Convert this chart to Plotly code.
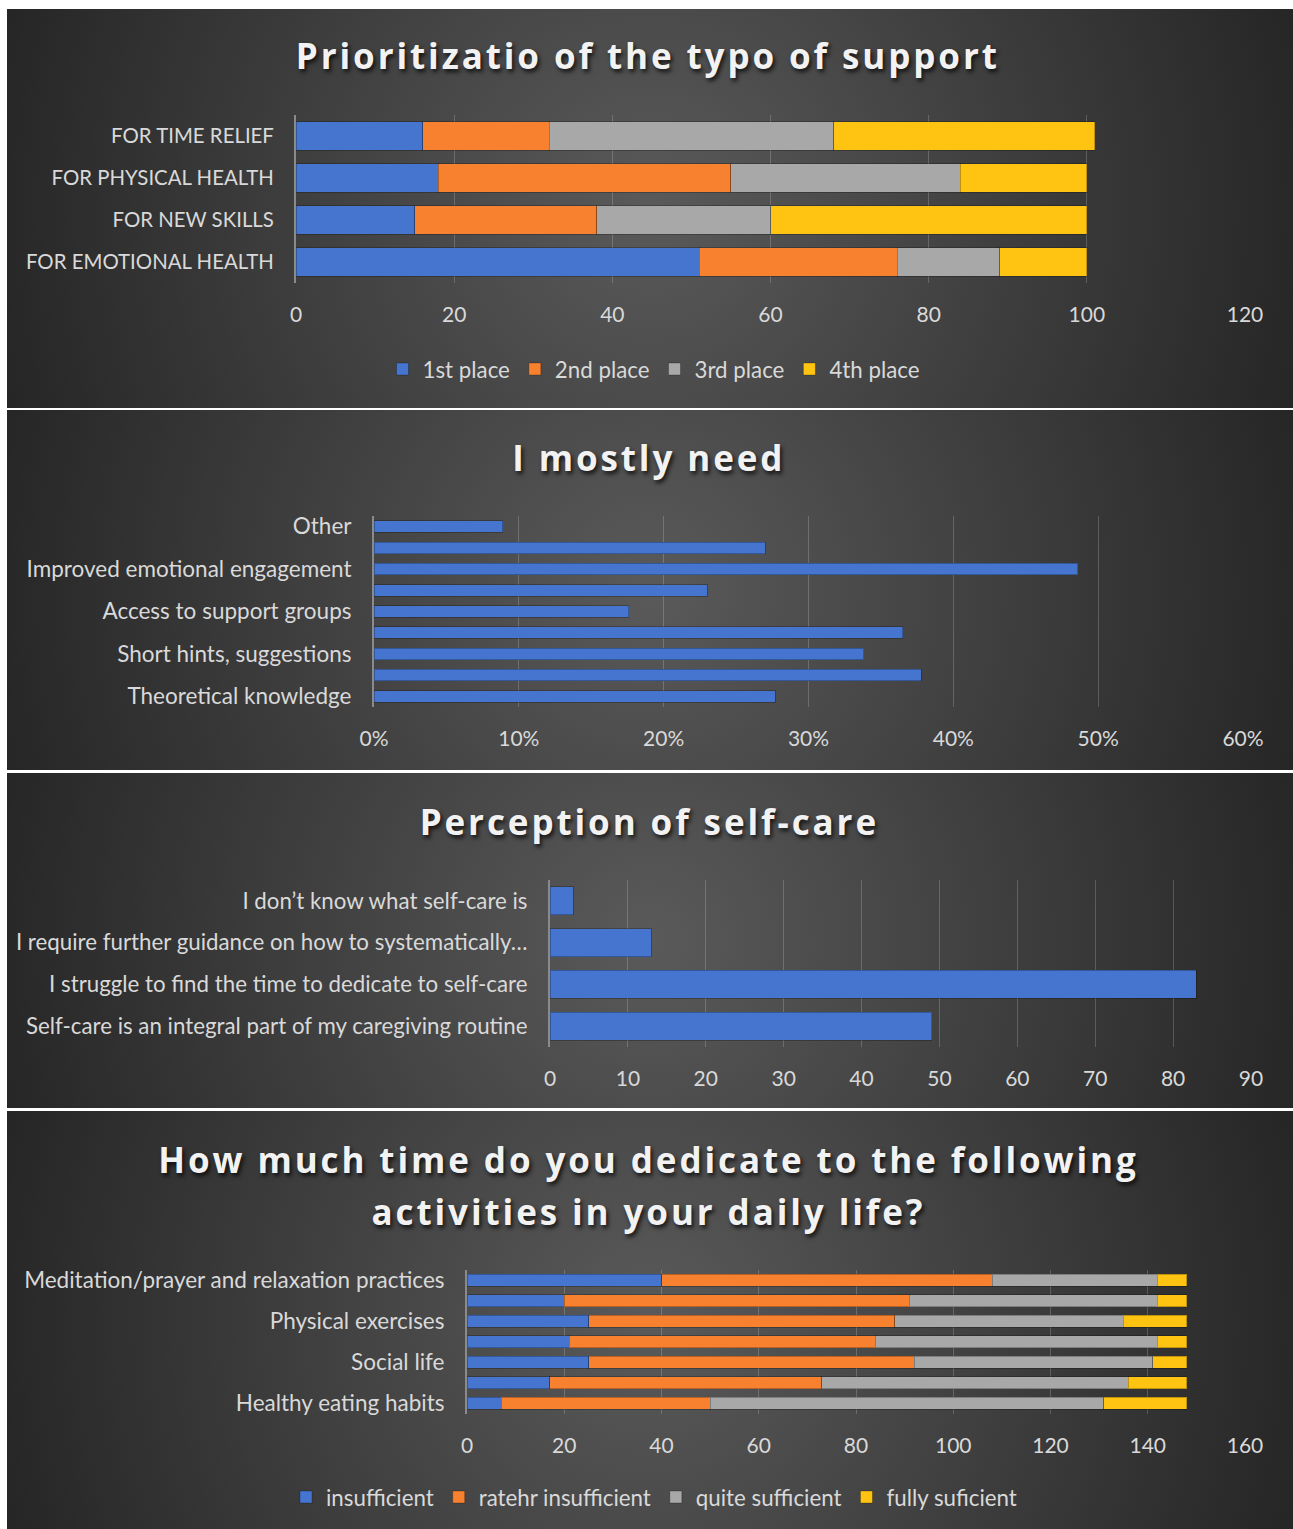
import base64
import plotly.graph_objects as go

W, H = 1293, 1529

# ---------------- data ----------------
# Chart 1: Prioritization of the type of support (stacked counts)
support_cats = ["FOR TIME RELIEF", "FOR PHYSICAL HEALTH", "FOR NEW SKILLS", "FOR EMOTIONAL HEALTH"]
place_names = ["1st place", "2nd place", "3rd place", "4th place"]
place_1st = [16, 18, 15, 51]
place_2nd = [16, 37, 23, 25]
place_3rd = [36, 29, 22, 13]
place_4th = [33, 16, 40, 11]

# Chart 2: I mostly need (share of respondents); unlabeled rows have hidden tick labels
need_labels = ["Other", "", "Improved emotional engagement", "", "Access to support groups", "",
               "Short hints, suggestions", "", "Theoretical knowledge"]
need_values = [0.089, 0.270, 0.486, 0.230, 0.176, 0.365, 0.338, 0.378, 0.277]

# Chart 3: Perception of self-care (counts)
selfcare_labels = ["I don\u2019t know what self-care is",
                   "I require further guidance on how to systematically\u2026",
                   "I struggle to find the time to dedicate to self-care",
                   "Self-care is an integral part of my caregiving routine"]
selfcare_values = [3, 13, 83, 49]

# Chart 4: time dedicated to activities (stacked counts)
activity_labels = ["Meditation/prayer and relaxation practices", "", "Physical exercises", "",
                   "Social life", "", "Healthy eating habits"]
time_names = ["insufficient", "ratehr insufficient", "quite sufficient", "fully suficient"]
time_insufficient = [40, 20, 25, 21, 25, 17, 7]
time_rather_insufficient = [68, 71, 63, 63, 67, 56, 43]
time_quite_sufficient = [34, 51, 47, 58, 49, 63, 81]
time_fully_sufficient = [6, 6, 13, 6, 7, 12, 17]

titles = ["Prioritizatio of the typo of support", "I mostly need", "Perception of self-care",
          "How much time do you dedicate to the following", "activities in your daily life?"]

# ---------------- style ----------------
BLUE, ORANGE, GRAY, YELLOW = "#4575cf", "#f7812f", "#a8a8a8", "#ffc412"
COLORS = [BLUE, ORANGE, GRAY, YELLOW]
TXT = "#d9d9d9"
GRID = "rgba(255,255,255,0.19)"
AXLINE = "#8a8a8a"
FONT = "Lato"
NUMFONT = dict(family=FONT, size=21, color=TXT)
CAPFONT = dict(family=FONT, size=20.4, color=TXT)
CATFONT = dict(family=FONT, size=22.5, color=TXT)
CATFONT3 = dict(family=FONT, size=22.3, color=TXT)
LEGFONT = dict(family=FONT, size=22.3, color=TXT)
TITLEFONT = dict(family="Open Sans", size=35, color="#f2f2f2", weight="bold",
                 shadow="2px 3px 4px rgba(0,0,0,0.75)")
BAR_LINE = dict(color="rgba(0,0,0,0.25)", width=1)


def px(x):
    return x / W


def py(y):
    return 1 - y / H


def dom_x(a, b):
    return [px(a), px(b)]


def dom_y(top, bottom):
    return [py(bottom), py(top)]


def bg_image(x0, y0, x1, y1):
    w, h = x1 - x0, y1 - y0
    r = 0.52 * w
    svg = (f"<svg xmlns='http://www.w3.org/2000/svg' width='{w}' height='{h}' viewBox='0 0 {w} {h}' "
           f"preserveAspectRatio='none'><defs><radialGradient id='g' gradientUnits='userSpaceOnUse' "
           f"cx='{w/2}' cy='{h/2}' r='{r}'><stop offset='0' stop-color='#5a5a5a'/>"
           f"<stop offset='1' stop-color='#262626'/></radialGradient></defs>"
           f"<rect x='0' y='0' width='{w}' height='{h}' fill='url(#g)'/></svg>")
    src = "data:image/svg+xml;base64," + base64.b64encode(svg.encode()).decode()
    return dict(source=src, xref="paper", yref="paper", x=px(x0), y=py(y0),
                sizex=w / W, sizey=h / H, sizing="stretch", xanchor="left", yanchor="top",
                layer="below")


fig = go.Figure()

# Chart 1
for name, vals, col in zip(place_names, [place_1st, place_2nd, place_3rd, place_4th], COLORS):
    fig.add_trace(go.Bar(y=support_cats, x=vals, orientation="h", name=name,
                         marker=dict(color=col, line=BAR_LINE), width=0.68,
                         xaxis="x", yaxis="y", legend="legend"))

# Chart 2
fig.add_trace(go.Bar(y=list(range(len(need_values))), x=need_values, orientation="h",
                     marker=dict(color=BLUE, line=BAR_LINE), width=0.54, showlegend=False,
                     xaxis="x2", yaxis="y2"))

# Chart 3
fig.add_trace(go.Bar(y=selfcare_labels, x=selfcare_values, orientation="h",
                     marker=dict(color=BLUE, line=BAR_LINE), width=0.67, showlegend=False,
                     xaxis="x3", yaxis="y3"))

# Chart 4
for name, vals, col in zip(time_names, [time_insufficient, time_rather_insufficient,
                                        time_quite_sufficient, time_fully_sufficient], COLORS):
    fig.add_trace(go.Bar(y=list(range(len(vals))), x=vals, orientation="h", name=name,
                         marker=dict(color=col, line=BAR_LINE), width=0.57,
                         xaxis="x4", yaxis="y4", legend="legend2"))


def xax(domain, rng, dtick, anchor, fmt=None, standoff=17):
    d = dict(domain=domain, range=rng, dtick=dtick, tick0=0, showgrid=True, gridcolor=GRID,
             gridwidth=1, zeroline=False, showline=False, tickfont=NUMFONT, anchor=anchor,
             ticks="", ticklabelstandoff=standoff, fixedrange=True, automargin=False)
    if fmt:
        d["tickformat"] = fmt
    return d


def yax(domain, rng, anchor, font, tickvals=None, ticktext=None):
    d = dict(domain=domain, range=rng, showgrid=False, zeroline=False, showline=True,
             linecolor=AXLINE, linewidth=2, tickfont=font, anchor=anchor, ticks="",
             ticklabelstandoff=16, fixedrange=True, automargin=False)
    if tickvals is not None:
        d["tickmode"] = "array"
        d["tickvals"] = tickvals
        d["ticktext"] = ticktext
    return d


def title_ann(text, cx, cy):
    return dict(text=text, x=px(cx), y=py(cy), xref="paper", yref="paper", showarrow=False,
                font=TITLEFONT, xanchor="center", yanchor="middle")


fig.update_layout(
    width=W, height=H, autosize=False,
    margin=dict(l=0, r=0, t=0, b=0, pad=0, autoexpand=False),
    paper_bgcolor="white", plot_bgcolor="rgba(0,0,0,0)",
    barmode="stack", font=dict(family=FONT, color=TXT),
    xaxis=xax(dom_x(296, 1245), [0, 120], 20, "y"),
    yaxis=yax(dom_y(115, 283), [3.5, -0.5], "x", CAPFONT),
    xaxis2=xax(dom_x(374, 1243), [0, 0.6], 0.1, "y2", fmt=".0%"),
    yaxis2=yax(dom_y(516, 707), [8.5, -0.5], "x2", CATFONT, list(range(len(need_labels))), need_labels),
    xaxis3=xax(dom_x(550, 1251), [0, 90], 10, "y3"),
    yaxis3=yax(dom_y(880, 1047), [3.5, -0.5], "x3", CATFONT3),
    xaxis4=xax(dom_x(467, 1245), [0, 160], 20, "y4"),
    yaxis4=yax(dom_y(1270, 1413.5), [6.5, -0.5], "x4", CATFONT,
               list(range(len(activity_labels))), activity_labels),
    legend=dict(orientation="h", x=px(654), xanchor="center", y=py(369), yanchor="middle",
                font=LEGFONT, bgcolor="rgba(0,0,0,0)", itemwidth=30, traceorder="normal"),
    legend2=dict(orientation="h", x=px(654), xanchor="center", y=py(1497), yanchor="middle",
                 font=LEGFONT, bgcolor="rgba(0,0,0,0)", itemwidth=30, traceorder="normal"),
    images=[bg_image(7, 9, 1293, 408), bg_image(7, 410, 1293, 770),
            bg_image(7, 773, 1293, 1108), bg_image(7, 1111, 1293, 1529)],
    annotations=[
        title_ann(titles[0], 648, 56),
        title_ann(titles[1], 649, 458),
        title_ann(titles[2], 649, 821),
        title_ann(titles[3], 648, 1159),
        title_ann(titles[4], 648, 1211),
    ],
)

post = """
document.documentElement.style.margin='0';document.body.style.margin='0';
document.body.style.overflow='hidden';
var gd=document.getElementById('{plot_id}');
gd.querySelectorAll('.annotation-text').forEach(function(t){t.style.letterSpacing='2.9px';});
"""

fig.write_html("out.html", config={"responsive": False, "displayModeBar": False}, post_script=post)
